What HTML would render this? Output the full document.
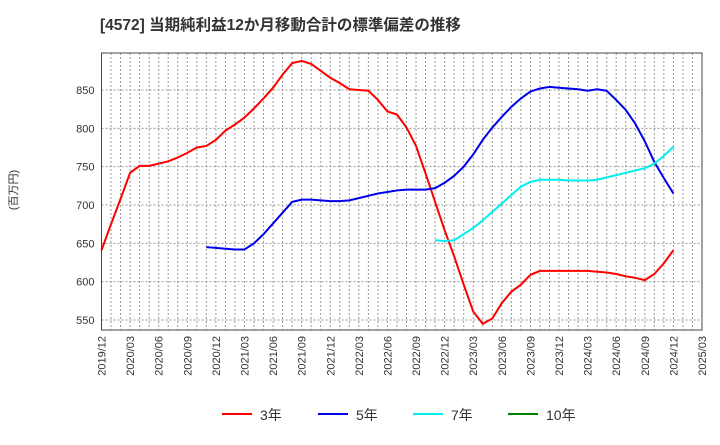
<!DOCTYPE html>
<html><head><meta charset="utf-8"><style>
body{margin:0;background:#fff;font-family:"Liberation Sans","Noto Sans CJK JP",sans-serif}
svg text{font-family:"Liberation Sans","Noto Sans CJK JP",sans-serif}
</style></head><body>
<svg id="c" width="720" height="440" xmlns="http://www.w3.org/2000/svg">
<text x="100" y="30" font-size="15.5" font-weight="bold" fill="#333">[4572]  当期純利益12か月移動合計の標準偏差の推移</text>
<text transform="translate(17,190) rotate(-90)" font-size="11" fill="#333" text-anchor="middle">(百万円)</text>
<g id="grid"></g><g id="series"></g><g id="axes"></g>
<g>
<line x1="222" y1="414" x2="252" y2="414" stroke="#ff0000" stroke-width="2"/><text x="260" y="420" font-size="14" fill="#333">3年</text>
<line x1="318" y1="414" x2="348" y2="414" stroke="#0000ee" stroke-width="2"/><text x="356" y="420" font-size="14" fill="#333">5年</text>
<line x1="413" y1="414" x2="443" y2="414" stroke="#00eeee" stroke-width="2"/><text x="451" y="420" font-size="14" fill="#333">7年</text>
<line x1="508" y1="414" x2="538" y2="414" stroke="#008000" stroke-width="2"/><text x="546" y="420" font-size="14" fill="#333">10年</text>
</g>
</svg>
<script>
const xTickLabels=["2019/12","2020/03","2020/06","2020/09","2020/12","2021/03","2021/06","2021/09","2021/12","2022/03","2022/06","2022/09","2022/12","2023/03","2023/06","2023/09","2023/12","2024/03","2024/06","2024/09","2024/12","2025/03"];
const yTicks=[550,600,650,700,750,800,850];
const s3=[641,675,708,742,751,751,754,757,762,768,775,777,785,797,805,814,826,839,853,870,885,888,884,875,866,859,851,850,849,837,822,818,801,777,741,704,667,633,596,561,545,552,572,587,596,609,614,614,614,614,614,614,613,612,610,607,605,602,610,624,641];
const s5Start=11;
const s5=[645,644,643,642,642,650,662,676,690,704,707,707,706,705,705,706,709,712,715,717,719,720,720,720,722,729,738,750,766,785,801,815,828,839,848,852,854,853,852,851,849,851,849,837,824,806,783,756,735,715];
const s7Start=35;
const s7=[654,653,654,662,670,680,691,702,713,724,730,733,733,733,732,732,732,733,736,739,742,745,748,754,764,776];
const L=101.5,R=702,T=53,B=330,nM=63;
const X=i=>L+(R-L)*i/nM;
const Y=v=>90+(850-v)*230/300;
const NS="http://www.w3.org/2000/svg";
function mk(p,t,a){const e=document.createElementNS(NS,t);for(const k in a)e.setAttribute(k,a[k]);p.appendChild(e);return e;}
const g=document.getElementById('grid'),ax=document.getElementById('axes'),sg=document.getElementById('series');
for(let i=1;i<nM;i++){const l=mk(g,'line',{x1:X(i),x2:X(i),y1:T,y2:B,stroke:'#999','stroke-dasharray':'2,2','stroke-width':1});

}
yTicks.forEach(v=>{const l=mk(g,'line',{x1:L,x2:R,y1:Y(v),y2:Y(v),stroke:'#999','stroke-dasharray':'2,2','stroke-width':1});


const t=mk(ax,'text',{x:L-7,y:Y(v)+4,'font-size':11,fill:'#333','text-anchor':'end'});t.textContent=v;

});
xTickLabels.forEach((s,i)=>{const x=X(i*3);const t=mk(ax,'text',{transform:`translate(${x+4},${B+6}) rotate(-90)`,'font-size':11,fill:'#333','text-anchor':'end'});t.textContent=s;

});
const fr=mk(ax,'rect',{x:L,y:T,width:R-L,height:B-T,fill:'none',stroke:'#444','stroke-width':1});


function line(arr,start,col,name){const p=mk(sg,'polyline',{points:arr.map((v,i)=>X(start+i)+','+Y(v)).join(' '),fill:'none',stroke:col,'stroke-width':2});

}
line(s3,0,'#ff0000','series-3y');
line(s5,s5Start,'#0000ee','series-5y');
line(s7,s7Start,'#00eeee','series-7y');
</script>
</body></html>
